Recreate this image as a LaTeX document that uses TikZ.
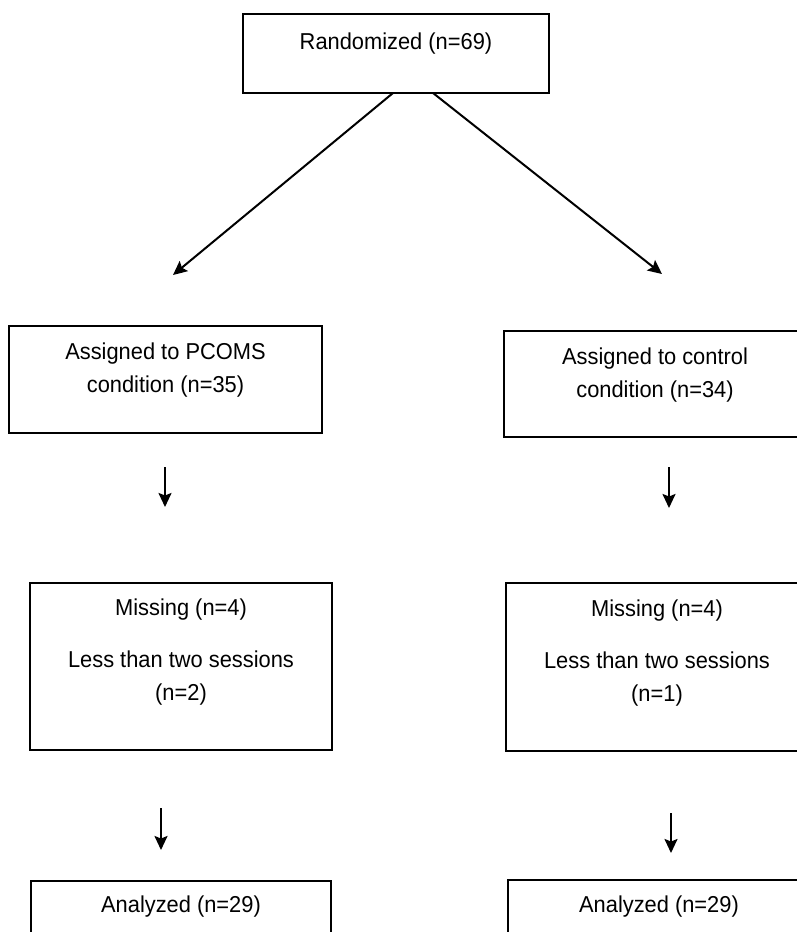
\documentclass[tikz,border=0pt]{standalone}
\usepackage{fontspec}
\setmainfont{Liberation Sans}[FakeStretch=0.95]
\usepackage{tikz}
\usetikzlibrary{arrows.meta}
\usetikzlibrary{positioning}

\begin{document}
\begin{tikzpicture}[x=1pt, y=-1pt,
  box/.style={draw, line width=1.9pt, inner sep=0pt, outer sep=0pt, anchor=north west},
  txt/.style={anchor=north, align=center, inner sep=0pt, font=\fontsize{23}{32.5}\selectfont},
  arr/.style={-{Stealth[length=14pt,width=13pt,inset=2.5pt]}, line width=2pt}]
\useasboundingbox (0,0) rectangle (797,932);

% boxes
\node[box, minimum width=306pt, minimum height=79pt] (rand) at (243,14) {};
\node[box, minimum width=313pt, minimum height=107pt] (pcoms) at (9,326) {};
\node[box, minimum width=302pt, minimum height=106pt] (ctrl) at (504,331) {};
\node[box, minimum width=302pt, minimum height=167pt] (pmiss) at (30,583) {};
\node[box, minimum width=302pt, minimum height=168pt] (cmiss) at (506,583) {};
\node[box, minimum width=300pt, minimum height=90pt] (pana) at (31,881) {};
\node[box, minimum width=302pt, minimum height=90pt] (cana) at (508,880) {};

% texts
\node[txt, below=19pt of rand.north] (randtxt) {Randomized (n=69)};
\node[txt, below=17pt of pcoms.north] (pcomstxt) {Assigned to PCOMS\\condition (n=35)};
\node[txt, below=17pt of ctrl.north] (ctrltxt) {Assigned to control\\condition (n=34)};
\node[txt, below=16pt of pmiss.north] (pmisstxt) {Missing (n=4)\\[19.5pt]Less than two sessions\\(n=2)};
\node[txt, below=17pt of cmiss.north] (cmisstxt) {Missing (n=4)\\[19.5pt]Less than two sessions\\(n=1)};
\node[txt, below=15pt of pana.north] (panatxt) {Analyzed (n=29)};
\node[txt, below=16pt of cana.north] (canatxt) {Analyzed (n=29)};

% arrows
\coordinate (pcomsend) at (173,275);
\coordinate (ctrlend) at (662,274);
\draw[arr] ([xshift=-3pt]rand.south) -- (pcomsend);
\draw[arr] ([xshift=37pt]rand.south) -- (ctrlend);

\coordinate (pa) at (165,467);
\coordinate (pb) at (165,507);
\coordinate (ca) at (669,467);
\coordinate (cb) at (669,508);
\coordinate (pc) at (161,808);
\coordinate (pd) at (161,850);
\coordinate (cc) at (671,813);
\coordinate (cd) at (671,853);
\draw[arr] (pa) -- (pb);
\draw[arr] (ca) -- (cb);
\draw[arr] (pc) -- (pd);
\draw[arr] (cc) -- (cd);
\end{tikzpicture}
\end{document}
